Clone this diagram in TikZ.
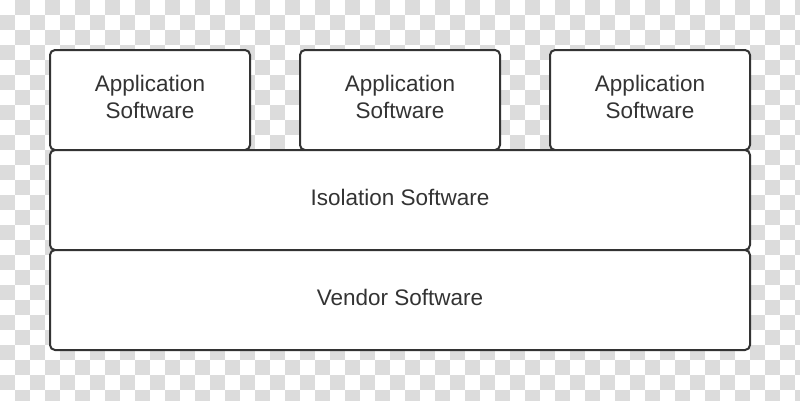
\documentclass[tikz,border=0pt]{standalone}
\usepackage{fontspec}
\setmainfont{Liberation Sans}
\definecolor{chk}{HTML}{DCDCDC}
\definecolor{ink}{HTML}{333333}
\begin{document}
\begin{tikzpicture}[x=1pt,y=-1pt,
  box/.style={draw=ink, line width=2pt, rounded corners=5pt, fill=white,
    inner sep=0pt, align=center, text=ink, text depth=6pt,
    font=\fontsize{22.5}{27}\selectfont}]
\useasboundingbox (0,0) rectangle (800,400);
\fill[white] (0,0) rectangle (800,400);
\begin{scope}
\clip (0,0) rectangle (800,400);
\foreach \c in {0,...,53}{
  \foreach \r in {0,...,26}{
    \pgfmathtruncatemacro{\s}{mod(\c+\r,2)}
    \ifnum\s=1
      \fill[chk] (\c*15,\r*15) rectangle ++(15,15);
    \fi
  }
}
\end{scope}
\node[box, minimum width=200pt, minimum height=100pt] (app1) at (150,100) {Application\\Software};
\node[box, minimum width=200pt, minimum height=100pt] (app2) at (400,100) {Application\\Software};
\node[box, minimum width=200pt, minimum height=100pt] (app3) at (650,100) {Application\\Software};
\node[box, minimum width=700pt, minimum height=100pt] (iso) at (400,200) {Isolation Software};
\node[box, minimum width=700pt, minimum height=100pt] (ven) at (400,300) {Vendor Software};
\end{tikzpicture}
\end{document}
